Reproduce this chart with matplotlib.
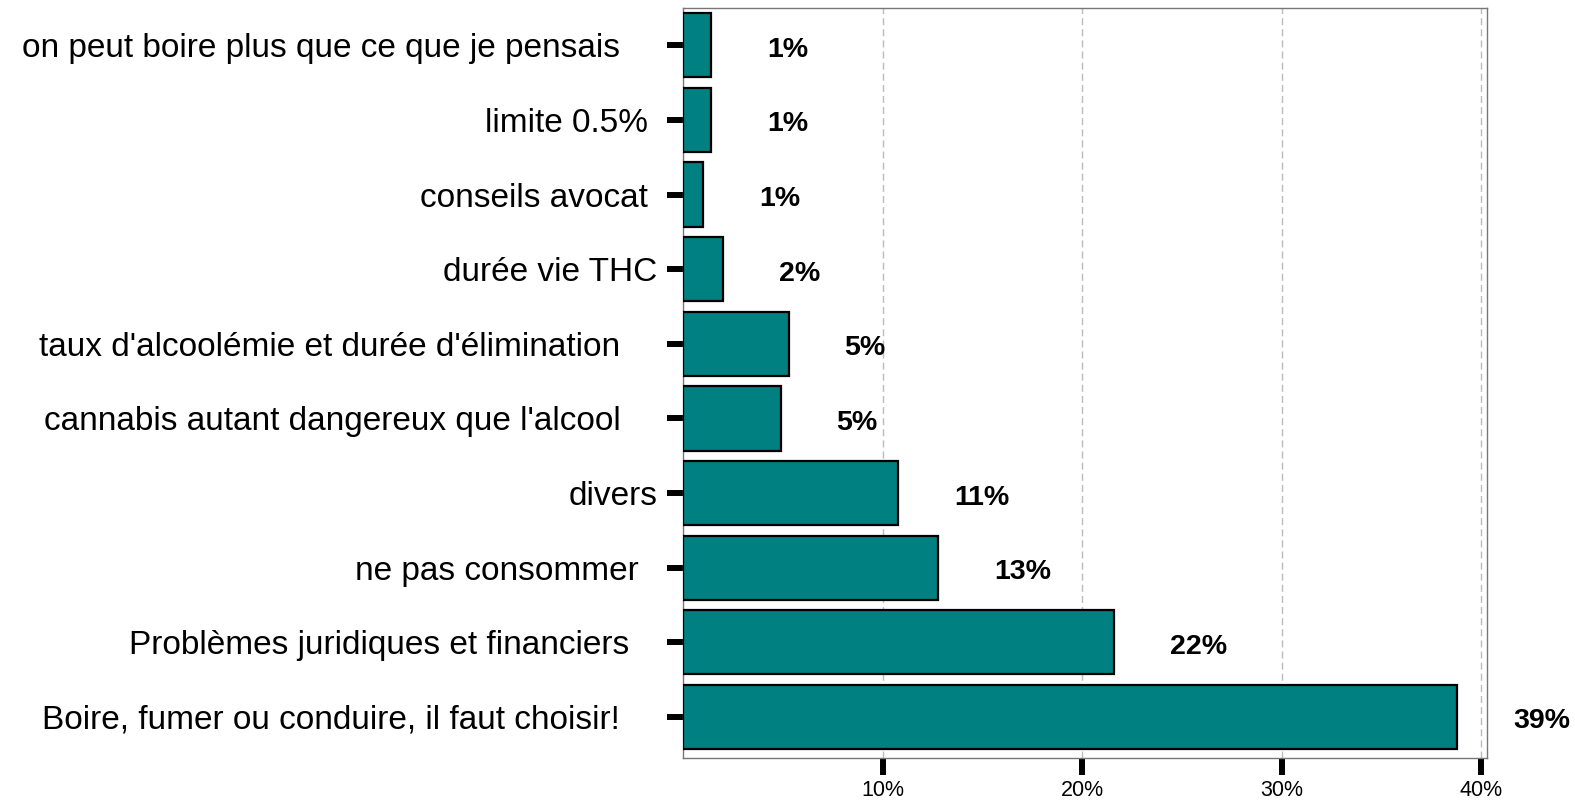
import matplotlib
matplotlib.use('Agg')
import matplotlib.pyplot as plt
import numpy as np

# === DATA (bottom to top) ===
categories = [
    "Boire, fumer ou conduire, il faut choisir!    ",
    "Problèmes juridiques et financiers   ",
    "ne pas consommer  ",
    "divers",
    "cannabis autant dangereux que l'alcool    ",
    "taux d'alcoolémie et durée d'élimination    ",
    "durée vie THC",
    "conseils avocat ",
    "limite 0.5% ",
    "on peut boire plus que ce que je pensais    ",
]
values = [38.8, 21.6, 12.8, 10.8, 4.9, 5.3, 2.0, 1.0, 1.4, 1.4]
value_labels = ["39%", "22%", "13%", "11%", "5%", "5%", "2%", "1%", "1%", "1%"]
xticks = [10, 20, 30, 40]
xtick_labels = ["10%", "20%", "30%", "40%"]

plt.rcParams['font.family'] = ['Liberation Sans', 'DejaVu Sans']

fig = plt.figure(figsize=(15.75, 8.02), dpi=100)
ax = fig.add_axes([683 / 1575, 1 - 758 / 802, (1487 - 683) / 1575, (758 - 8) / 802])

y = np.arange(len(categories))
ax.barh(y, values, height=0.86, color='#008080', edgecolor='black', linewidth=1.6, zorder=3)

for yi, v, lab in zip(y, values, value_labels):
    ax.text(v + 2.8, yi - 0.06, lab, ha='left', va='center', fontsize=20.5,
            fontweight='bold', clip_on=False)

ax.set_xlim(0, 40.3)
ax.set_ylim(-0.55, 9.5)
ax.set_xticks(xticks)
ax.set_xticklabels(xtick_labels, fontsize=15.5)
ax.set_yticks(y)
ax.set_yticklabels(categories, fontsize=24, va='center_baseline')

ax.tick_params(axis='x', length=12.5, width=4.3, pad=3, color='black')
ax.tick_params(axis='y', length=11.5, width=4.3, pad=7, color='black')

ax.grid(axis='x', linestyle=(0, (5, 3)), color='#bbbbbb', linewidth=1, zorder=0)
ax.set_axisbelow(True)
for s in ax.spines.values():
    s.set_color('#777777')
    s.set_linewidth(1)

fig.savefig('out.png', dpi=100)
